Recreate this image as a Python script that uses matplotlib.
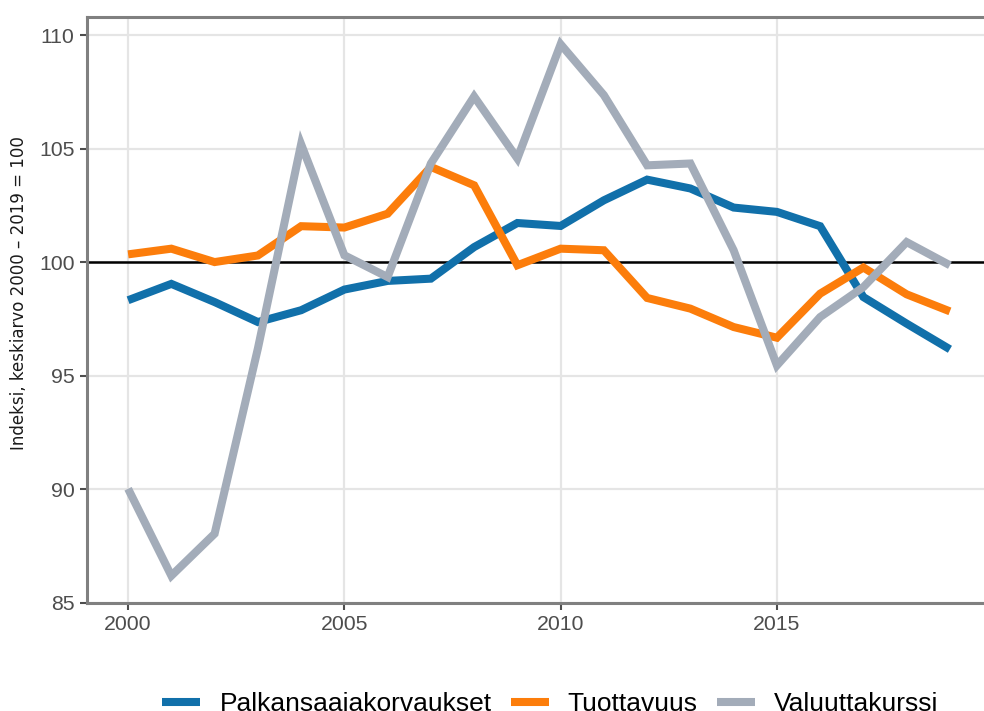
import matplotlib
matplotlib.use("Agg")
import matplotlib.pyplot as plt

plt.rcParams["font.family"] = ["Liberation Sans", "DejaVu Sans"]

years = list(range(2000, 2020))

palkansaajakorvaukset = [98.33, 99.05, 98.25, 97.37, 97.89, 98.80, 99.18, 99.28, 100.67, 101.73,
                         101.60, 102.73, 103.64, 103.25, 102.41, 102.22, 101.59, 98.47, 97.30, 96.17]
tuottavuus = [100.35, 100.60, 100.01, 100.30, 101.59, 101.53, 102.14, 104.20, 103.39, 99.87,
              100.60, 100.53, 98.43, 97.96, 97.15, 96.68, 98.62, 99.77, 98.59, 97.84]
valuuttakurssi = [90.03, 86.20, 88.05, 96.20, 105.20, 100.31, 99.35, 104.35, 107.30, 104.57,
                  109.60, 107.36, 104.27, 104.35, 100.53, 95.46, 97.59, 98.91, 100.89, 99.87]

series_names = ["Palkansaajakorvaukset", "Tuottavuus", "Valuuttakurssi"]
series_values = [palkansaajakorvaukset, tuottavuus, valuuttakurssi]
series_colors = ["#1170aa", "#fc7d0b", "#a3acb9"]

x_ticks = [2000, 2005, 2010, 2015]
y_ticks = [85, 90, 95, 100, 105, 110]
y_label = "Indeksi, keskiarvo 2000 \u2013 2019 = 100"

W, H = 984, 711
fig = plt.figure(figsize=(W / 100, H / 100), dpi=100)
left, right, bottom, top = 87, 991, 603, 17
ax = fig.add_axes([left / W, (H - bottom) / H, (right - left) / W, (bottom - top) / H])

ax.set_xlim(1999.05, 2019.95)
ax.set_ylim(85, 110.8)

ax.grid(True, color="#e5e5e5", linewidth=1.6, zorder=0)
ax.set_axisbelow(True)
ax.axhline(100, color="black", linewidth=1.8, zorder=2)

lines = []
for name, vals, col in zip(series_names, series_values, series_colors):
    ln, = ax.plot(years, vals, color=col, linewidth=5.8, label=name, zorder=3,
                  solid_joinstyle="miter", solid_capstyle="butt")
    lines.append(ln)

ax.set_xticks(x_ticks)
ax.set_yticks(y_ticks)
ax.tick_params(axis="both", which="major", length=5, width=1.5, color="#4d4d4d",
               labelcolor="#4d4d4d", labelsize=15.3, pad=4)

for sp in ax.spines.values():
    sp.set_color("#808080")
    sp.set_linewidth(2.2)

ax.set_ylabel(y_label, fontsize=12, color="#1a1a1a", family=["DejaVu Sans"])
ax.yaxis.set_label_coords((28 - left) / (right - left), (bottom - 293) / (bottom - top))

fig.legend(handles=lines, labels=series_names, loc="center",
           bbox_to_anchor=(550.5 / W, 0.010), ncol=3, frameon=False,
           fontsize=19, handlelength=1.43, handletextpad=0.73, columnspacing=0.73)

fig.savefig("out.png", dpi=100)
